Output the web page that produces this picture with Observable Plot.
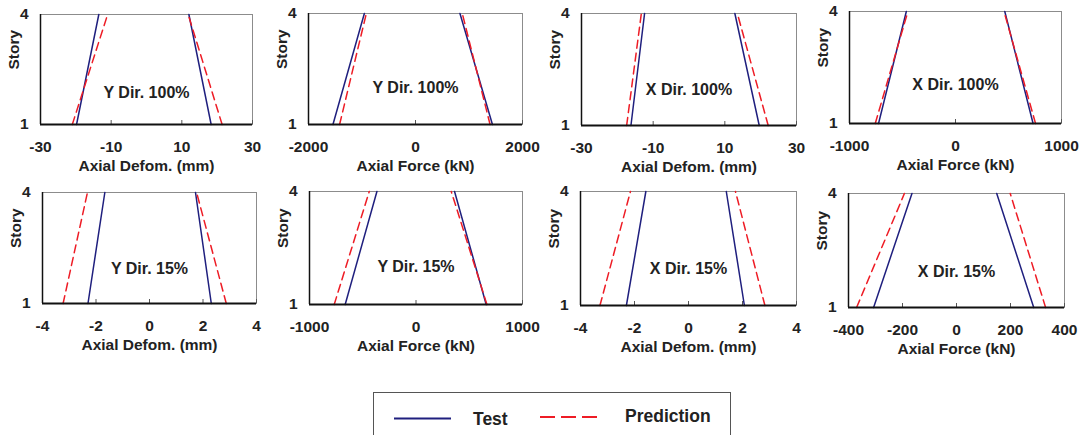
<!DOCTYPE html>
<html>
<head>
<meta charset="utf-8">
<script src="https://cdn.jsdelivr.net/npm/d3@7"></script>
<script src="https://cdn.jsdelivr.net/npm/@observablehq/plot@0.6"></script>
<style>
  html, body { margin: 0; padding: 0; background: #fff; }
  #wrap { position: relative; width: 1084px; height: 435px; overflow: hidden; font-family: Arial, "Liberation Sans", sans-serif; }
  #wrap svg { position: absolute; overflow: visible; }
  #legend { position: absolute; left: 373px; top: 392px; width: 358px; height: 60px; border: 1px solid #555; box-sizing: border-box; }
  .lg { position: absolute; font-weight: bold; font-size: 17.5px; color: #222; line-height: 18px; }
</style>
</head>
<body>
<div id="wrap"></div>
<script>
// ---- data ----
const storyLevels = [1, 4];
const panelLabels = ["Y Dir. 100%", "Y Dir. 100%", "X Dir. 100%", "X Dir. 100%",
                     "Y Dir. 15%", "Y Dir. 15%", "X Dir. 15%", "X Dir. 15%"];
const xTitles = ["Axial Defom. (mm)", "Axial Force (kN)", "Axial Defom. (mm)", "Axial Force (kN)",
                 "Axial Defom. (mm)", "Axial Force (kN)", "Axial Defom. (mm)", "Axial Force (kN)"];
const xTicks = [
  [-30, -10, 10, 30], [-2000, 0, 2000], [-30, -10, 10, 30], [-1000, 0, 1000],
  [-4, -2, 0, 2, 4], [-1000, 0, 1000], [-4, -2, 0, 2, 4], [-400, -200, 0, 200, 400]
];
const yTicks = [1, 4];
// values at [story 1, story 4]
const testNeg = [[-19.8, -13.5], [-1543, -956], [-16.2, -12.4], [-726, -464],
                 [-2.30, -1.67], [-665, -367], [-2.30, -1.58], [-307, -165]];
const testPos = [[18.3, 12.0], [1438, 831], [19.6, 12.8], [732, 465],
                 [2.31, 1.72], [659, 362], [2.07, 1.40], [286, 149]];
const predNeg = [[-21.0, -11.0], [-1419, -919], [-17.4, -13.3], [-757, -449],
                 [-3.23, -2.32], [-768, -439], [-3.28, -2.15], [-370, -193]];
const predPos = [[21.4, 11.8], [1394, 875], [22.1, 13.5], [755, 458],
                 [2.87, 1.76], [666, 331], [2.83, 1.74], [330, 199]];
const seriesNames = ["Test", "Prediction"];

// ---- layout (page px of each plot frame: left, top, width, height) ----
const frames = [[40, 14, 212, 110], [308, 13, 214, 111], [581, 13, 215, 112], [849, 11, 212, 112],
                [42, 192, 214, 111], [309, 191, 213, 113], [580, 191, 216, 114], [848, 193, 216, 114]];
const labelDy = [-27, -32, -31, -34, -30, -33, -32, -31];
const BLUE = "#1f1f7e", RED = "#ee1c25";
const FONT = 'Arial, "Liberation Sans", sans-serif';
const ML = 40, MR = 24, MT = 10, MB = 62;

function rows(neg, pos) {
  const out = [];
  [["neg", neg], ["pos", pos]].forEach(([side, v]) => {
    storyLevels.forEach((s, j) => out.push({side, x: v[j], y: s}));
  });
  return out;
}

const wrap = document.getElementById("wrap");
for (let i = 0; i < 8; i++) {
  const [fx, fy, fw, fh] = frames[i];
  const ticks = xTicks[i];
  const dom = [ticks[0], ticks[ticks.length - 1]];
  const svg = Plot.plot({
    width: ML + fw + MR,
    height: MT + fh + MB,
    marginLeft: ML, marginRight: MR, marginTop: MT, marginBottom: MB,
    style: {fontFamily: FONT, fontSize: "15px", fontWeight: "bold", color: "#222", background: "transparent", overflow: "visible"},
    x: {domain: dom, axis: null},
    y: {domain: [storyLevels[0], storyLevels[1]], axis: null},
    marks: [
      Plot.frame({stroke: "#8c8c8c", strokeWidth: 1}),
      Plot.axisX(ticks, {tickSize: -4, text: null, label: null, stroke: "#555", strokeWidth: 1}),
      Plot.line(rows(testNeg[i], testPos[i]), {x: "x", y: "y", z: "side", stroke: BLUE, strokeWidth: 1.5}),
      Plot.line(rows(predNeg[i], predPos[i]), {x: "x", y: "y", z: "side", stroke: RED, strokeWidth: 1.5, strokeDasharray: "8,5"}),
      Plot.ruleX([dom[0]], {stroke: "#111", strokeWidth: 1.5}),
      Plot.ruleY([storyLevels[0]], {stroke: "#111", strokeWidth: 2}),
      Plot.axisX(ticks, {tickSize: 0, tickPadding: 16, label: null, fontSize: 15.5, fontWeight: "bold", tickFormat: d => String(d)}),
      Plot.axisY(yTicks, {tickSize: 0, tickPadding: 12, label: null, fontSize: 15.5, fontWeight: "bold", tickFormat: d => String(d)}),
      Plot.text([xTitles[i]], {text: d => d, frameAnchor: "bottom", dy: 46, fontSize: 15.5, fontWeight: "bold"}),
      Plot.text(["Story"], {text: d => d, frameAnchor: "left", dx: -26, rotate: -90, fontSize: 15.5, fontWeight: "bold"}),
      Plot.text([panelLabels[i]], {text: d => d, frameAnchor: "bottom", dy: labelDy[i], fontSize: 16, fontWeight: "bold"})
    ]
  });
  svg.style.left = (fx - ML) + "px";
  svg.style.top = (fy - MT) + "px";
  wrap.appendChild(svg);
}

// ---- legend ----
const lg = document.createElement("div");
lg.id = "legend";
lg.innerHTML =
  `<svg width="358" height="60" style="position:absolute;left:0;top:0">
     <line x1="20" x2="77" y1="25.5" y2="25.5" stroke="${BLUE}" stroke-width="2"/>
     <line x1="166" x2="229" y1="24" y2="24" stroke="${RED}" stroke-width="2" stroke-dasharray="15,6"/>
   </svg>
   <div class="lg" style="left:99px;top:17px">${seriesNames[0]}</div>
   <div class="lg" style="left:251px;top:14px">${seriesNames[1]}</div>`;
wrap.appendChild(lg);
</script>
</body>
</html>
